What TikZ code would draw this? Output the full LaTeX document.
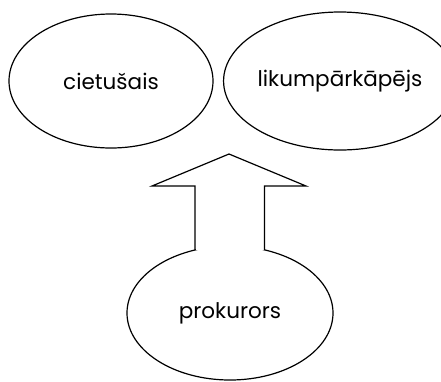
\documentclass[tikz,border=0pt]{standalone}
\usepackage{fontspec}
\setmainfont{Poppins}
\usetikzlibrary{shapes.geometric}
\begin{document}
\begin{tikzpicture}[x=1pt,y=-1pt,
  bubble/.style={draw=black,ellipse,line width=1.2pt,inner sep=0pt,font=\fontsize{21.5}{24}\selectfont},
  outline/.style={draw=black,line width=1.2pt,line join=miter}]
\useasboundingbox (0,0) rectangle (441,381);
\node[bubble,minimum width=204,minimum height=134] (c) at (111,81) {cietušais};
\node[bubble,minimum width=200,minimum height=138] (l) at (340,81) {likumpārkāpējs};
\node[bubble,minimum width=206,minimum height=134] (p) at (230,313) {prokurors};
\coordinate (tip) at (229,154);
\coordinate (hl) at (152,186);
\coordinate (hr) at (306,186);
\coordinate (sl) at (195,186);
\coordinate (sr) at (264.5,186);
\coordinate (bl) at (195,250);
\coordinate (br) at (264.5,250);
\fill[white] (195.6,186) rectangle (263.9,250.4);
\draw[outline] (bl) -- (sl) -- (hl) -- (tip) -- (hr) -- (sr) -- (br);
\end{tikzpicture}
\end{document}
